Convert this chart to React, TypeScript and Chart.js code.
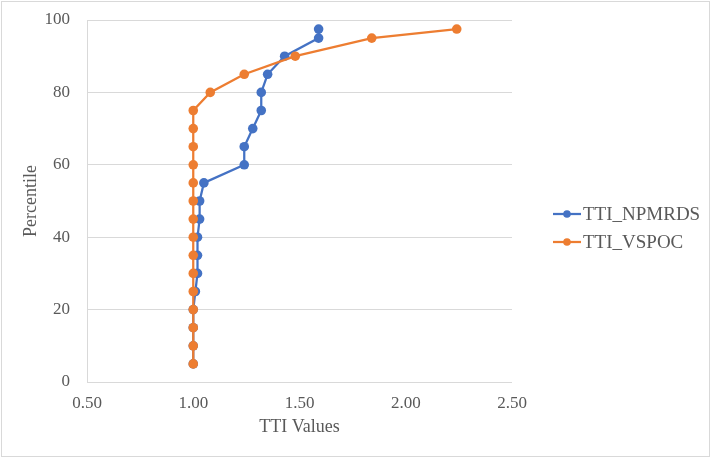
import React, { useEffect, useRef } from "react";
import { Chart, registerables } from "chart.js";

Chart.register(...registerables);

// Percentile levels shared by both series
const percentiles = [5, 10, 15, 20, 25, 30, 35, 40, 45, 50, 55, 60, 65, 70, 75, 80, 85, 90, 95, 97.5];

// TTI value at each percentile
const ttiNpmrds = [1.0, 1.0, 1.0, 1.0, 1.01, 1.02, 1.02, 1.02, 1.03, 1.03, 1.05, 1.24, 1.24, 1.28, 1.32, 1.32, 1.35, 1.43, 1.59, 1.59];
const ttiVspoc = [1.0, 1.0, 1.0, 1.0, 1.0, 1.0, 1.0, 1.0, 1.0, 1.0, 1.0, 1.0, 1.0, 1.0, 1.0, 1.08, 1.24, 1.48, 1.84, 2.24];

const seriesNames = ["TTI_NPMRDS", "TTI_VSPOC"];
const seriesColors = ["#4472C4", "#ED7D31"];

const xTitle = "TTI Values";
const yTitle = "Percentile";

const FONT = "'Times New Roman', 'Liberation Serif', serif";
const TEXT = "#595959";
const GRID = "#D9D9D9";

const W = 712;
const H = 462;

// Outer frame and legend drawn on the canvas
const framePlugin = {
  id: "frameAndLegend",
  afterDraw(chart: any) {
    const ctx = chart.ctx;
    ctx.save();
    ctx.strokeStyle = GRID;
    ctx.lineWidth = 1;
    ctx.strokeRect(1.5, 1.5, W - 4, H - 7);

    const x0 = chart.chartArea.right + 41;
    const rowY = [214, 242];
    seriesNames.forEach((name, i) => {
      const y = rowY[i];
      ctx.strokeStyle = seriesColors[i];
      ctx.lineWidth = 2.25;
      ctx.beginPath();
      ctx.moveTo(x0, y);
      ctx.lineTo(x0 + 28, y);
      ctx.stroke();
      ctx.fillStyle = seriesColors[i];
      ctx.beginPath();
      ctx.arc(x0 + 14, y, 3.8, 0, Math.PI * 2);
      ctx.fill();
      ctx.fillStyle = TEXT;
      ctx.font = `19px ${FONT}`;
      ctx.textAlign = "left";
      ctx.textBaseline = "middle";
      ctx.fillText(name, x0 + 30, y + 1);
    });
    ctx.restore();
  },
};

export default function App() {
  const ref = useRef<HTMLCanvasElement | null>(null);

  useEffect(() => {
    document.body.style.margin = "0";
    const canvas = ref.current;
    if (!canvas) return;

    const toPoints = (xs: number[]) => xs.map((x, i) => ({ x, y: percentiles[i] }));

    const chart = new Chart(canvas, {
      type: "scatter",
      data: {
        datasets: [
          {
            label: seriesNames[0],
            data: toPoints(ttiNpmrds),
            showLine: true,
            borderColor: seriesColors[0],
            backgroundColor: seriesColors[0],
            borderWidth: 2.25,
            pointRadius: 4.8,
            pointBorderWidth: 0,
            order: 1,
          },
          {
            label: seriesNames[1],
            data: toPoints(ttiVspoc),
            showLine: true,
            borderColor: seriesColors[1],
            backgroundColor: seriesColors[1],
            borderWidth: 2.25,
            pointRadius: 4.8,
            pointBorderWidth: 0,
            order: 0,
          },
        ],
      },
      options: {
        responsive: false,
        animation: false,
        layout: { padding: { left: 0, top: 20, right: 200, bottom: 0 } },
        plugins: {
          legend: { display: false },
          tooltip: { enabled: false },
        },
        scales: {
          x: {
            type: "linear",
            min: 0.5,
            max: 2.5,
            grid: { display: false, drawTicks: false },
            border: { display: false },
            ticks: {
              stepSize: 0.5,
              padding: 11,
              color: TEXT,
              font: { family: FONT, size: 17 },
              callback: (v: any) => Number(v).toFixed(2),
            },
            title: {
              display: true,
              text: xTitle,
              color: TEXT,
              font: { family: FONT, size: 18 },
              padding: { top: 0, bottom: 24 },
            },
            afterFit: (scale: any) => {
              scale.height = 80;
            },
          },
          y: {
            type: "linear",
            min: 0,
            max: 100,
            grid: { color: GRID, lineWidth: 1, drawTicks: false },
            border: { display: true, color: GRID, width: 1 },
            ticks: {
              stepSize: 20,
              padding: 17,
              color: TEXT,
              font: { family: FONT, size: 17 },
            },
            title: {
              display: true,
              text: yTitle,
              color: TEXT,
              font: { family: FONT, size: 18 },
              padding: { top: 20, bottom: 0 },
            },
            afterFit: (scale: any) => {
              scale.width = 87;
              scale.paddingTop = 0;
              scale.paddingBottom = 0;
            },
          },
        },
      },
      plugins: [framePlugin],
    });

    return () => chart.destroy();
  }, []);

  return (
    <div style={{ position: "absolute", left: 0, top: 0, width: W, height: H, background: "#fff" }}>
      <canvas ref={ref} width={W} height={H} style={{ display: "block" }} />
    </div>
  );
}
